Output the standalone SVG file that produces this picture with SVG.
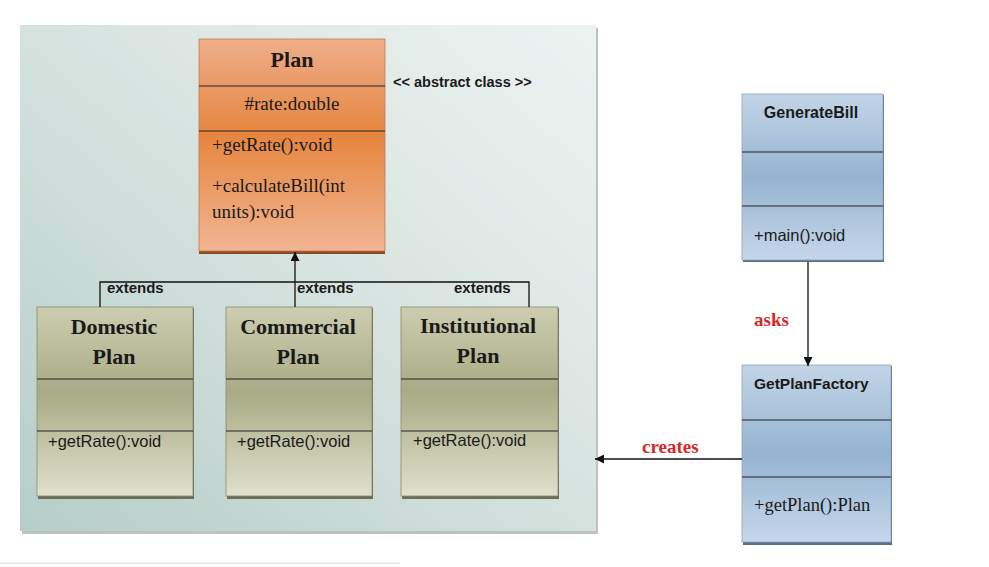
<svg xmlns="http://www.w3.org/2000/svg" width="989" height="567" viewBox="0 0 989 567">
<defs>
<linearGradient id="bg" x1="0" y1="1" x2="1" y2="0">
<stop offset="0" stop-color="#b5cec8"/>
<stop offset="0.6" stop-color="#dbe6e3"/>
<stop offset="1" stop-color="#eef3f2"/>
</linearGradient>
<linearGradient id="org" x1="0" y1="0" x2="0" y2="1">
<stop offset="0" stop-color="#eeae8a"/>
<stop offset="0.45" stop-color="#e6853f"/>
<stop offset="1" stop-color="#f1b592"/>
</linearGradient>
<linearGradient id="olv" x1="0" y1="0" x2="0" y2="1">
<stop offset="0" stop-color="#cdcdb0"/>
<stop offset="0.45" stop-color="#a8ab84"/>
<stop offset="1" stop-color="#e0e0cc"/>
</linearGradient>
<linearGradient id="blu" x1="0" y1="0" x2="0" y2="1">
<stop offset="0" stop-color="#c3d5e7"/>
<stop offset="0.5" stop-color="#95b3d2"/>
<stop offset="1" stop-color="#c6d7e9"/>
</linearGradient>
<marker id="ah" viewBox="0 0 10 10" refX="10" refY="5" markerWidth="9" markerHeight="9" markerUnits="userSpaceOnUse" orient="auto">
<path d="M0,0 L10,5 L0,10 z" fill="#111"/>
</marker>
<style>
.ln{stroke:#111;stroke-width:1.3;fill:none}
.sep{stroke:#222;stroke-width:1.2}
.ser{font-family:"Liberation Serif",serif;fill:#1a1a1a}
.san{font-family:"Liberation Sans",sans-serif;fill:#1a1a1a}
.ttl{font-family:"Liberation Serif",serif;font-weight:bold;font-size:22px;fill:#1a1a1a;text-anchor:middle}
.red{font-family:"Liberation Serif",serif;font-weight:bold;font-size:19px;fill:#d42a2a}
.ext{font-family:"Liberation Sans",sans-serif;font-weight:bold;font-size:15px;fill:#1a1a1a}
</style>
</defs>
<rect x="0" y="0" width="989" height="567" fill="#ffffff"/>
<g id="panel">
<rect x="22" y="28" width="576" height="506" fill="#8e9a96" opacity="0.6"/>
<rect x="20" y="25" width="576" height="506" fill="url(#bg)"/>
</g>
<line x1="0" y1="563" x2="400" y2="563" stroke="#d8d8d8" stroke-width="1"/>
<g id="plan">
<rect x="199" y="40" width="186" height="214" fill="#8a4a22"/>
<rect x="199" y="39" width="186" height="212" fill="url(#org)" stroke="#c07a50" stroke-width="0.8"/>
<line class="sep" x1="199" y1="86" x2="385" y2="86"/>
<line class="sep" x1="199" y1="131" x2="385" y2="131"/>
<text class="ser" x="292" y="67" font-size="22" font-weight="bold" text-anchor="middle">Plan</text>
<text class="ser" x="292" y="110" font-size="19" text-anchor="middle">#rate:double</text>
<text class="ser" x="212" y="151" font-size="19">+getRate():void</text>
<text class="ser" x="212" y="192" font-size="19">+calculateBill(int</text>
<text class="ser" x="212" y="218" font-size="19">units):void</text>
</g>
<text id="abstract" class="san" x="393" y="87" font-size="14.5" font-weight="bold">&lt;&lt; abstract class &gt;&gt;</text>
<g id="domestic">
<rect x="38" y="308" width="156" height="191" fill="#6e6e58"/>
<rect x="37" y="307" width="156" height="189" fill="url(#olv)" stroke="#8a8a70" stroke-width="0.8"/>
<line class="sep" x1="37" y1="379" x2="193" y2="379"/>
<line class="sep" x1="37" y1="431" x2="193" y2="431"/>
<text class="ttl" x="114" y="334">Domestic</text>
<text class="ttl" x="114" y="364">Plan</text>
<text class="san" x="48" y="447" font-size="16.5">+getRate():void</text>
</g>
<g id="commercial">
<rect x="227" y="308" width="146" height="191" fill="#6e6e58"/>
<rect x="226" y="307" width="146" height="189" fill="url(#olv)" stroke="#8a8a70" stroke-width="0.8"/>
<line class="sep" x1="226" y1="379" x2="372" y2="379"/>
<line class="sep" x1="226" y1="431" x2="372" y2="431"/>
<text class="ttl" x="298" y="334">Commercial</text>
<text class="ttl" x="298" y="364">Plan</text>
<text class="san" x="237" y="447" font-size="16.5">+getRate():void</text>
</g>
<g id="institutional">
<rect x="402" y="308" width="157" height="191" fill="#6e6e58"/>
<rect x="401" y="307" width="157" height="189" fill="url(#olv)" stroke="#8a8a70" stroke-width="0.8"/>
<line class="sep" x1="401" y1="379" x2="558" y2="379"/>
<line class="sep" x1="401" y1="431" x2="558" y2="431"/>
<text class="ttl" x="478" y="333">Institutional</text>
<text class="ttl" x="478" y="363">Plan</text>
<text class="san" x="413" y="446" font-size="16.5">+getRate():void</text>
</g>
<g id="generatebill">
<rect x="743" y="95" width="141" height="167" fill="#5a6e86"/>
<rect x="742" y="94" width="141" height="166" fill="url(#blu)" stroke="#8aa4c0" stroke-width="0.8"/>
<line class="sep" x1="742" y1="152" x2="883" y2="152"/>
<line class="sep" x1="742" y1="206" x2="883" y2="206"/>
<text class="san" x="811" y="118" font-size="16" font-weight="bold" text-anchor="middle">GenerateBill</text>
<text class="san" x="754" y="241" font-size="16.5">+main():void</text>
</g>
<g id="getplanfactory">
<rect x="743" y="366" width="149" height="179" fill="#5a6e86"/>
<rect x="742" y="365" width="149" height="177" fill="url(#blu)" stroke="#8aa4c0" stroke-width="0.8"/>
<line class="sep" x1="742" y1="420" x2="891" y2="420"/>
<line class="sep" x1="742" y1="477" x2="891" y2="477"/>
<text class="san" x="754" y="389" font-size="15.5" font-weight="bold">GetPlanFactory</text>
<text class="ser" x="754" y="511" font-size="18.5">+getPlan():Plan</text>
</g>
<g id="connectors">
<path class="ln" d="M100,307 V282 H529 V307"/>
<path class="ln" d="M295,307 V252" marker-end="url(#ah)"/>
<path class="ln" d="M808,262 V366" marker-end="url(#ah)"/>
<path class="ln" d="M742,459 H595" marker-end="url(#ah)"/>
<text class="ext" x="107" y="293">extends</text>
<text class="ext" x="297" y="293">extends</text>
<text class="ext" x="454" y="293">extends</text>
<text class="red" x="754" y="326">asks</text>
<text class="red" x="642" y="453">creates</text>
</g>
</svg>
